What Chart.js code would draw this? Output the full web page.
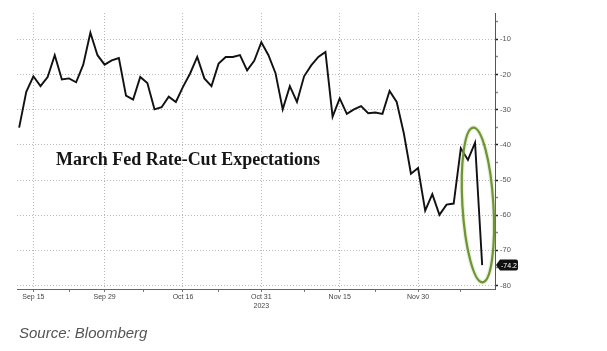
<!DOCTYPE html>
<html>
<head>
<meta charset="utf-8">
<script src="https://cdn.jsdelivr.net/npm/chart.js@4.4.1/dist/chart.umd.min.js"></script>
<style>
  body { margin: 0; background: #fff; }
  #wrap { position: relative; width: 607px; height: 351px; }
  #title { position: absolute; left: 56px; top: 149px; font: bold 18px "Liberation Serif", serif; color: #151515; white-space: nowrap; }
  #source { position: absolute; left: 19px; top: 324px; font: italic 15px "Liberation Sans", Arial, sans-serif; color: #555; white-space: nowrap; }
</style>
</head>
<body>
<div id="wrap">
  <canvas id="rateChart" width="607" height="351"></canvas>
  <div id="title">March Fed Rate-Cut Expectations</div>
  <div id="source">Source: Bloomberg</div>
</div>
<script>
// one value per trading day, Sep 13 to Dec 13 2023
const cutValues = [
  -35.1, -24.9, -20.5, -23.3, -20.7, -14.5, -21.4, -21.1, -22.2, -17.2,
  -8.1, -14.5, -17.2, -16.0, -15.3, -26.0, -27.1, -20.7, -22.4, -29.9,
  -29.3, -26.3, -27.8, -23.5, -19.7, -15.0, -21.1, -23.3, -16.9, -15.0,
  -15.0, -14.5, -18.8, -16.1, -10.8, -14.5, -19.7, -29.9, -23.3, -27.8,
  -20.5, -17.4, -15.0, -13.6, -32.0, -26.8, -31.2, -29.9, -29.0, -31.0,
  -30.8, -31.2, -24.7, -27.8, -36.7, -48.2, -46.6, -58.7, -54.0, -59.9,
  -57.0, -56.7, -41.0, -44.3, -39.4, -74.2
];
const tickIndex = [2, 12, 23, 34, 45, 56];
const tickLabels = ["Sep 15", "Sep 29", "Oct 16", ["Oct 31", "2023"], "Nov 15", "Nov 30"];
const minorTickIndex = [7, 17.5, 28, 40, 50, 62];
const yTickValues = [-80, -75, -70, -65, -60, -55, -50, -45, -40, -35, -30, -25, -20, -15, -10, -5];
const lastLabel = "-74.2";

const points = cutValues.map(function (v, i) { return { x: i, y: v }; });

const markPlugin = {
  id: "marks",
  afterDatasetsDraw(chart) {
    const ctx = chart.ctx;
    const xs = chart.scales.x, ys = chart.scales.y;
    const cx = xs.getPixelForValue(64.4);
    const cy = ys.getPixelForValue(-57.1);
    ctx.save();
    ctx.beginPath();
    ctx.ellipse(cx, cy, 15.5, 77.5, -0.06, 0, Math.PI * 2);
    ctx.lineWidth = 4.5;
    ctx.strokeStyle = "rgba(160,195,120,0.25)";
    ctx.stroke();
    ctx.lineWidth = 2.2;
    ctx.strokeStyle = "#6e9433";
    ctx.stroke();
    ctx.restore();
  },
  afterDraw(chart) {
    // black value tag on the right axis
    const ctx = chart.ctx;
    const y = chart.scales.y.getPixelForValue(cutValues[cutValues.length - 1]);
    const x = chart.chartArea.right + 1;
    ctx.save();
    ctx.beginPath();
    ctx.moveTo(x, y);
    ctx.lineTo(x + 4, y - 5.5);
    ctx.lineTo(x + 20, y - 5.5);
    ctx.quadraticCurveTo(x + 22, y - 5.5, x + 22, y - 3.5);
    ctx.lineTo(x + 22, y + 3.5);
    ctx.quadraticCurveTo(x + 22, y + 5.5, x + 20, y + 5.5);
    ctx.lineTo(x + 4, y + 5.5);
    ctx.closePath();
    ctx.fillStyle = "#111";
    ctx.fill();
    ctx.fillStyle = "#fff";
    ctx.font = "7px 'Liberation Sans', sans-serif";
    ctx.textAlign = "center";
    ctx.textBaseline = "middle";
    ctx.fillText(lastLabel, x + 13, y + 0.5);
    ctx.restore();
  }
};

const config = {
  type: "line",
  data: {
    datasets: [
      {
        data: points,
        borderColor: "#111",
        borderWidth: 1.9,
        pointRadius: 0,
        tension: 0,
        fill: false
      }
    ]
  },
  options: {
    responsive: false,
    animation: false,
    layout: { padding: { left: 17, top: 13, right: 82, bottom: 38 } },
    plugins: {
      legend: { display: false },
      tooltip: { enabled: false }
    },
    scales: {
      x: {
        type: "linear",
        min: -0.3,
        max: 66.8,
        afterBuildTicks: function (scale) {
          scale.ticks = tickIndex.concat(minorTickIndex).sort(function (a, b) { return a - b; })
            .map(function (v) { return { value: v }; });
        },
        afterFit: function (scale) { scale.height = 24; },
        ticks: {
          autoSkip: false,
          maxRotation: 0,
          padding: 1,
          color: "#444",
          font: { family: "Liberation Sans", size: 7 },
          callback: function (v) {
            const k = tickIndex.indexOf(v);
            return k >= 0 ? tickLabels[k] : "";
          }
        },
        grid: {
          color: function (c) { return tickIndex.indexOf(c.tick && c.tick.value) >= 0 ? "#b8b8b8" : "rgba(0,0,0,0)"; },
          tickColor: "#777",
          tickLength: 3,
          lineWidth: 1
        },
        border: { color: "#666", width: 1, dash: [1, 2] }
      },
      y: {
        position: "right",
        min: -81,
        max: -2.5,
        afterBuildTicks: function (scale) {
          scale.ticks = yTickValues.map(function (v) { return { value: v }; });
        },
        afterFit: function (scale) { scale.width = 30; },
        ticks: {
          autoSkip: false,
          padding: 2,
          color: "#555",
          font: { family: "Liberation Sans", size: 7.5 },
          callback: function (v) { return v % 10 === 0 ? String(v) : ""; }
        },
        grid: {
          color: function (c) { return c.tick && c.tick.value % 10 === 0 ? "#b8b8b8" : "rgba(0,0,0,0)"; },
          tickColor: function (c) { return c.tick && c.tick.value % 10 === 0 ? "#222" : "#888"; },
          tickLength: 3,
          tickWidth: 1.5,
          lineWidth: 1
        },
        border: { color: "#555", width: 1, dash: [1, 2] }
      }
    }
  },
  plugins: [markPlugin]
};

const rateChart = new Chart(document.getElementById("rateChart"), config);
</script>
</body>
</html>
